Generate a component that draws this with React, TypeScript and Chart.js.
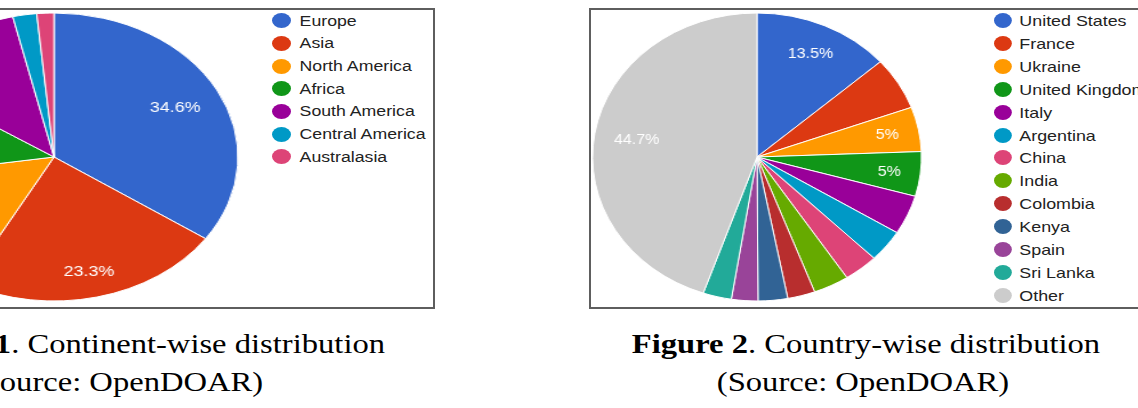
import React, { useEffect, useRef } from "react";
import { Chart, registerables } from "chart.js";

Chart.register(...registerables);

// ---- Figure 1: continents ----
const continentLabels = ["Europe", "Asia", "North America", "Africa", "South America", "Central America", "Australasia"];
const continentValues = [34.6, 23.3, 14.7, 11.7, 12.1, 2.1, 1.5];
const continentColors = ["#3366cc", "#dc3912", "#ff9900", "#109618", "#990099", "#0099c6", "#dd4477"];
const continentLabelled = ["Europe", "Asia"];

// ---- Figure 2: countries ----
const countryLabels = ["United States", "France", "Ukraine", "United Kingdom", "Italy", "Argentina", "China", "India", "Colombia", "Kenya", "Spain", "Sri Lanka", "Other"];
const countryValues = [13.5, 5.9, 5.0, 5.0, 4.4, 3.6, 3.4, 3.5, 2.7, 2.9, 2.6, 2.8, 44.7];
const countryColors = ["#3366cc", "#dc3912", "#ff9900", "#109618", "#990099", "#0099c6", "#dd4477", "#66aa00", "#b82e2e", "#316395", "#994499", "#22aa99", "#cccccc"];
const countryLabelled = ["United States", "Ukraine", "United Kingdom", "Other"];

const SANS = '"Liberation Sans", Arial, sans-serif';
const SERIF = '"Liberation Serif", "Times New Roman", serif';

function makeLabelPlugin(labelled: string[]) {
  return {
    id: "sliceLabels",
    afterDatasetsDraw(chart: any) {
      const ctx = chart.ctx;
      const meta = chart.getDatasetMeta(0);
      const vals = chart.data.datasets[0].data as number[];
      const total = vals.reduce((a: number, b: number) => a + b, 0);
      ctx.save();
      ctx.font = `14px ${SANS}`;
      ctx.fillStyle = "#ffffff";
      ctx.textAlign = "center";
      ctx.textBaseline = "middle";
      meta.data.forEach((arc: any, i: number) => {
        const name = chart.data.labels[i];
        if (!labelled.includes(name)) return;
        const p = arc.getProps(["x", "y", "startAngle", "endAngle", "outerRadius"], true);
        const mid = (p.startAngle + p.endAngle) / 2;
        const txt = `${parseFloat(((vals[i] / total) * 100).toFixed(1))}%`;
        const w = ctx.measureText(txt).width;
        const c = Math.cos(mid);
        const s = Math.sin(mid);
        const d = 0.885 * p.outerRadius - ((w / 2) * Math.abs(c) + 6 * Math.abs(s));
        ctx.fillText(txt, p.x + c * d, p.y + s * d + 1);
      });
      ctx.restore();
    },
  };
}

type PieProps = {
  labels: string[];
  values: number[];
  colors: string[];
  labelled: string[];
  cx: number;
  cy: number;
  radius: number;
  sx: number;
};

function Pie({ labels, values, colors, labelled, cx, cy, radius, sx }: PieProps) {
  const ref = useRef<HTMLCanvasElement | null>(null);
  const S = 2 * radius + 8;
  useEffect(() => {
    if (!ref.current) return;
    const chart = new Chart(ref.current, {
      type: "pie",
      data: {
        labels,
        datasets: [
          {
            data: values,
            backgroundColor: colors,
            borderColor: "#ffffff",
            borderWidth: 1,
            radius: radius,
          } as any,
        ],
      },
      options: {
        responsive: false,
        animation: false,
        events: [],
        layout: { padding: 0 },
        plugins: { legend: { display: false }, tooltip: { enabled: false } },
      },
      plugins: [makeLabelPlugin(labelled)],
    });
    return () => chart.destroy();
  }, []);
  return (
    <div
      style={{
        position: "absolute",
        left: cx - S / 2,
        top: cy - S / 2,
        width: S,
        height: S,
        transform: `scaleX(${sx})`,
        transformOrigin: "50% 50%",
      }}
    >
      <canvas ref={ref} width={S} height={S} style={{ width: S, height: S, display: "block" }} />
    </div>
  );
}

type LegendProps = {
  labels: string[];
  colors: string[];
  x: number;
  y0: number;
  step: number;
  fontSize: number;
  sx: number;
  textX: number;
  dot: number;
};

function Legend({ labels, colors, x, y0, step, fontSize, sx, textX, dot }: LegendProps) {
  const lh = Math.round(fontSize * 1.15);
  return (
    <div
      style={{
        position: "absolute",
        left: x,
        top: 0,
        transform: `scaleX(${sx})`,
        transformOrigin: "0 0",
        whiteSpace: "nowrap",
      }}
    >
      {labels.map((l, i) => (
        <div
          key={l}
          style={{
            position: "absolute",
            left: 0,
            top: y0 + i * step - lh / 2,
            height: lh,
            lineHeight: `${lh}px`,
            fontFamily: SANS,
            fontSize,
            color: "#222222",
          }}
        >
          <span
            style={{
              position: "absolute",
              left: 0,
              top: (lh - dot) / 2,
              width: dot,
              height: dot,
              borderRadius: "50%",
              background: colors[i],
            }}
          />
          <span style={{ position: "absolute", left: textX, top: 0 }}>{l}</span>
        </div>
      ))}
    </div>
  );
}

function CaptionLine({ cx, top, children }: { cx: number; top: number; children: any }) {
  return (
    <div
      style={{
        position: "absolute",
        left: cx - 500,
        width: 1000,
        top,
        textAlign: "center",
        fontFamily: SERIF,
        fontSize: 28,
        lineHeight: "28px",
        transform: "scaleX(1.164)",
        transformOrigin: "50% 0",
        whiteSpace: "nowrap",
        color: "#000",
      }}
    >
      {children}
    </div>
  );
}

const frameStyle: any = {
  position: "absolute",
  boxSizing: "border-box",
  border: "2px solid #5e5e5e",
  background: "#fff",
};

export default function App() {
  return (
    <div
      style={{
        position: "fixed",
        left: 0,
        top: 0,
        width: 1138,
        height: 408,
        overflow: "hidden",
        background: "#fff",
      }}
    >
      <div style={{ ...frameStyle, left: -10, top: 8, width: 445, height: 301 }} />
      <div style={{ ...frameStyle, left: 589, top: 8, width: 600, height: 301 }} />

      <Pie
        labels={continentLabels}
        values={continentValues}
        colors={continentColors}
        labelled={continentLabelled}
        cx={54.3}
        cy={156.8}
        radius={144}
        sx={1.278}
      />
      <Legend
        labels={continentLabels}
        colors={continentColors}
        x={272}
        y0={20.7}
        step={22.67}
        fontSize={14}
        sx={1.265}
        textX={21.8}
        dot={15}
      />

      <Pie
        labels={countryLabels}
        values={countryValues}
        colors={countryColors}
        labelled={countryLabelled}
        cx={756.7}
        cy={157.2}
        radius={144}
        sx={1.142}
      />
      <Legend
        labels={countryLabels}
        colors={countryColors}
        x={994}
        y0={20.7}
        step={22.86}
        fontSize={15}
        sx={1.19}
        textX={21.3}
        dot={15}
      />

      <CaptionLine cx={140} top={329.5}>
        <b>Figure 1</b>. Continent-wise distribution
      </CaptionLine>
      <CaptionLine cx={117} top={368.2}>
        (Source: OpenDOAR)
      </CaptionLine>
      <CaptionLine cx={865.8} top={329.5}>
        <b>Figure 2</b>. Country-wise distribution
      </CaptionLine>
      <CaptionLine cx={862.5} top={368.2}>
        (Source: OpenDOAR)
      </CaptionLine>
    </div>
  );
}
